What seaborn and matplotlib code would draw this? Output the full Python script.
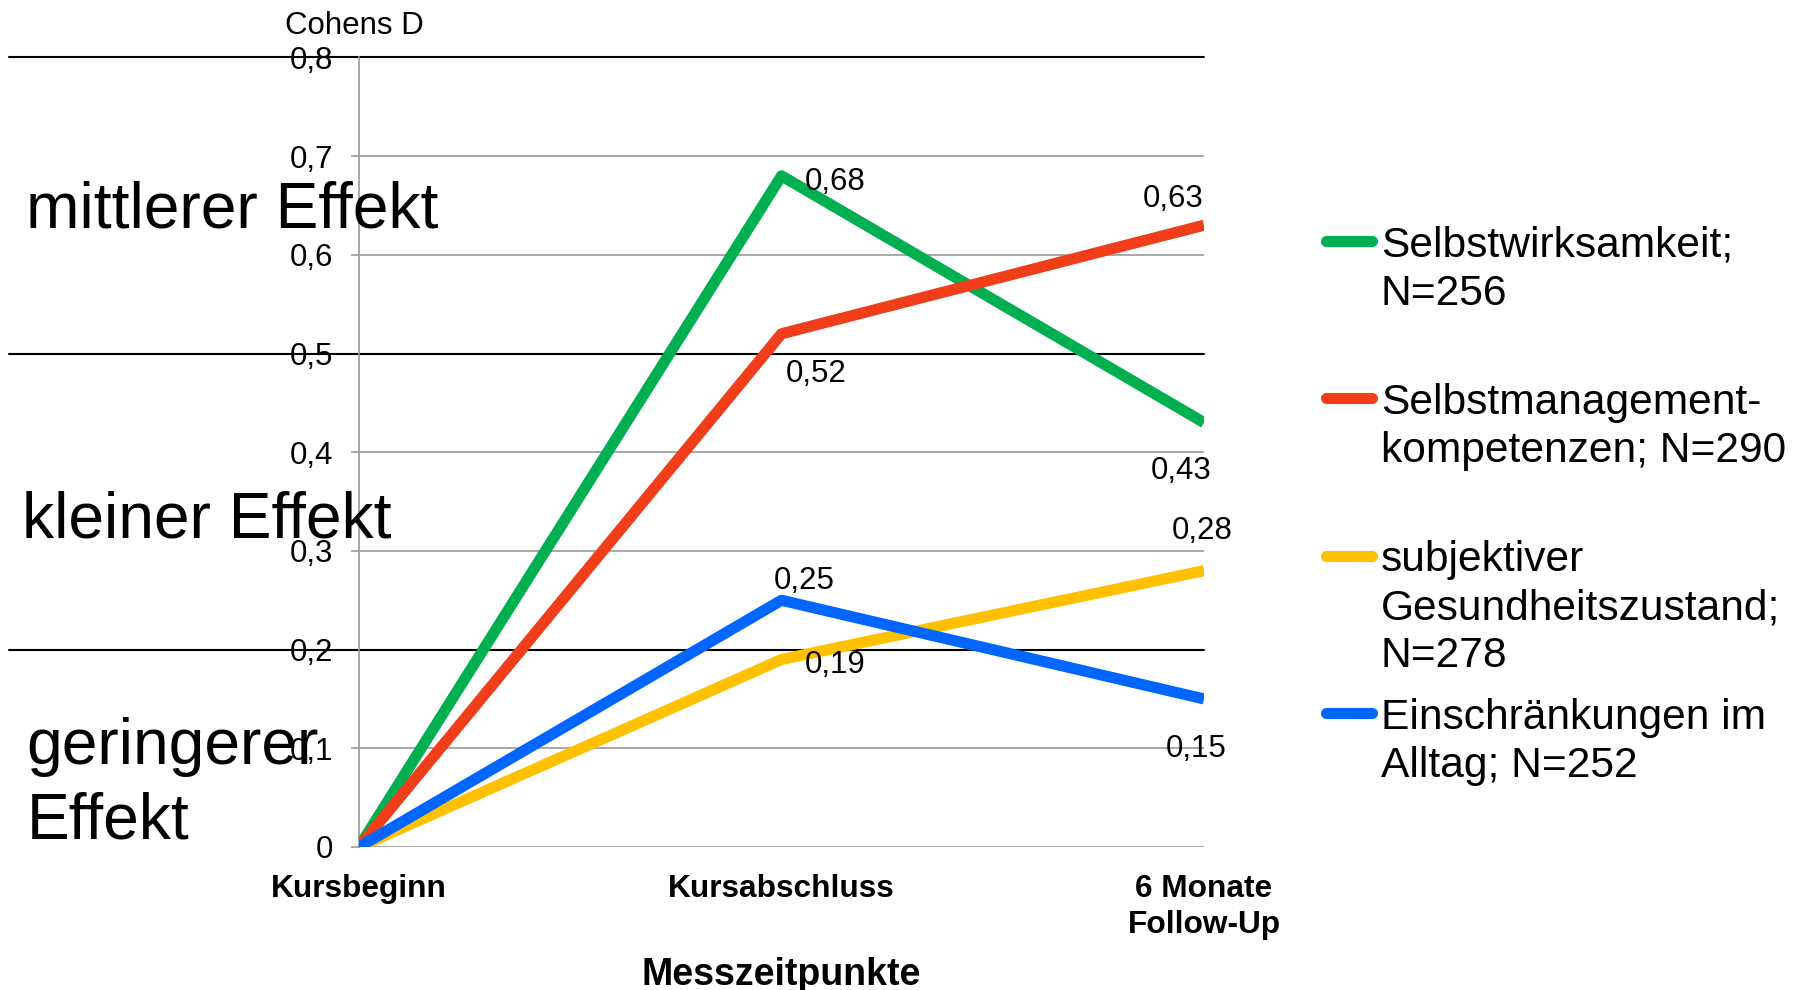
import matplotlib
matplotlib.use("Agg")
import matplotlib.pyplot as plt
import seaborn as sns
import pandas as pd
from matplotlib.lines import Line2D

# --- data ---------------------------------------------------------------
zeitpunkte = ["Kursbeginn", "Kursabschluss", "6 Monate\nFollow-Up"]
reihen = [
    "Selbstwirksamkeit;\nN=256",
    "Selbstmanagement-\nkompetenzen; N=290",
    "subjektiver\nGesundheitszustand;\nN=278",
    "Einschränkungen im\nAlltag; N=252",
]
selbstwirksamkeit = [0.0, 0.68, 0.43]
selbstmanagement = [0.0, 0.52, 0.63]
gesundheitszustand = [0.0, 0.19, 0.28]
einschraenkungen = [0.0, 0.25, 0.15]
y_ticks = [0.0, 0.1, 0.2, 0.3, 0.4, 0.5, 0.6, 0.7, 0.8]
effekt_grenzen = [0.2, 0.5, 0.8]
effekt_texte = ["geringerer\nEffekt", "kleiner Effekt", "mittlerer Effekt"]

werte = [selbstwirksamkeit, selbstmanagement, gesundheitszustand, einschraenkungen]
farben = ["#00B050", "#F03E1B", "#FFC000", "#0066FF"]

df = pd.DataFrame(
    [(r, i, v) for r, serie in zip(reihen, werte) for i, v in enumerate(serie)],
    columns=["reihe", "pos", "d"],
)

# --- layout helpers (pixel based, figure 1800 x 990 at 100 dpi) ----------
W, H = 1800, 990
def fx(px):
    return px / W
def fy(py):
    return 1 - py / H

sns.set_theme(style="white")
plt.rcParams["font.family"] = ["Liberation Sans", "DejaVu Sans"]
plt.rcParams["text.color"] = "black"

fig = plt.figure(figsize=(18, 9.9), dpi=100)
ax = fig.add_axes([fx(359), fy(847), fx(1204) - fx(359), fy(57.4) - fy(847)])

sns.lineplot(
    data=df, x="pos", y="d", hue="reihe", hue_order=reihen, palette=farben,
    linewidth=8.0, legend=False, sort=False, ax=ax,
    solid_joinstyle="round", solid_capstyle="butt", zorder=3,
)

ax.set_xlim(0, 2)
ax.set_ylim(0, 0.8)

# grid and axes styling
grau = "#9a9a9a"
ax.set_yticks(y_ticks)
ax.set_yticklabels(["0" if t == 0 else f"{t:.1f}".replace(".", ",") for t in y_ticks])
ax.yaxis.grid(True, color=grau, linewidth=1.2)
ax.xaxis.grid(False)
for s in ["top", "right", "bottom"]:
    ax.spines[s].set_visible(False)
ax.spines["left"].set_color(grau)
ax.spines["left"].set_linewidth(1.2)
ax.tick_params(axis="y", left=True, length=5.8, width=1.2, color=grau,
               pad=13, labelsize=22.5, labelcolor="black")
ax.set_xticks(range(len(zeitpunkte)))
ax.set_xticklabels(zeitpunkte, fontweight="bold", linespacing=1.27)
ax.tick_params(axis="x", length=0, pad=19.2, labelsize=22.8, labelcolor="black")

ax.set_xlabel("Messzeitpunkte", fontweight="bold", fontsize=27, color="black")
ax.xaxis.set_label_coords(0.5, -0.1387)
ax.set_ylabel("")

# effect size thresholds spanning into the left margin
for g in effekt_grenzen:
    ax.axhline(g, xmin=-0.414, xmax=1.0, color="black", linewidth=1.5,
               clip_on=False, zorder=2.2)

# value labels at the measurement points
label_offsets = {
    (0, 1): ("left", 23, -2.5), (0, 2): ("center", -23, -45),
    (1, 1): ("left", 4, -36.5), (1, 2): ("right", 0, 30),
    (2, 1): ("left", 23, -2), (2, 2): ("center", -2, 43.5),
    (3, 1): ("center", 23, 23), (3, 2): ("center", -8, -47),
}
for k, serie in enumerate(werte):
    for i, v in enumerate(serie):
        if (k, i) not in label_offsets:
            continue
        ha, dx, dy = label_offsets[(k, i)]
        ax.annotate(f"{v:.2f}".replace(".", ","), xy=(i, v), xytext=(dx, dy),
                    textcoords="offset pixels", ha=ha, va="center_baseline",
                    fontsize=22.5, color="black", zorder=5)

# axis title at the top of the value axis
fig.text(fx(354), fy(23), "Cohens D", ha="center", va="center_baseline",
         fontsize=22.5, color="black")

# effect category captions in the left margin
fig.text(fx(25.5), fy(227), effekt_texte[2], ha="left", va="baseline",
         fontsize=46.2, color="black")
fig.text(fx(22.5), fy(537), effekt_texte[1], ha="left", va="baseline",
         fontsize=46.2, color="black")
fig.text(fx(26.5), fy(763 - 0.72 * 64), effekt_texte[0], ha="left", va="top",
         fontsize=46.2, linespacing=1.32, color="black")

# legend: handle aligned with the first line of each entry
legend_y = [241.1, 398.4, 555.6, 712.9]
for name, farbe, yy in zip(reihen, farben, legend_y):
    fig.add_artist(Line2D([fx(1326), fx(1372)], [fy(yy), fy(yy)], color=farbe,
                          linewidth=8.0, solid_capstyle="round"))
    fig.text(fx(1381), fy(yy - 0.36 * 42.5), name, ha="left", va="top",
             fontsize=30.6, linespacing=1.26, color="black")

fig.savefig("out.png", dpi=100, facecolor="white")
